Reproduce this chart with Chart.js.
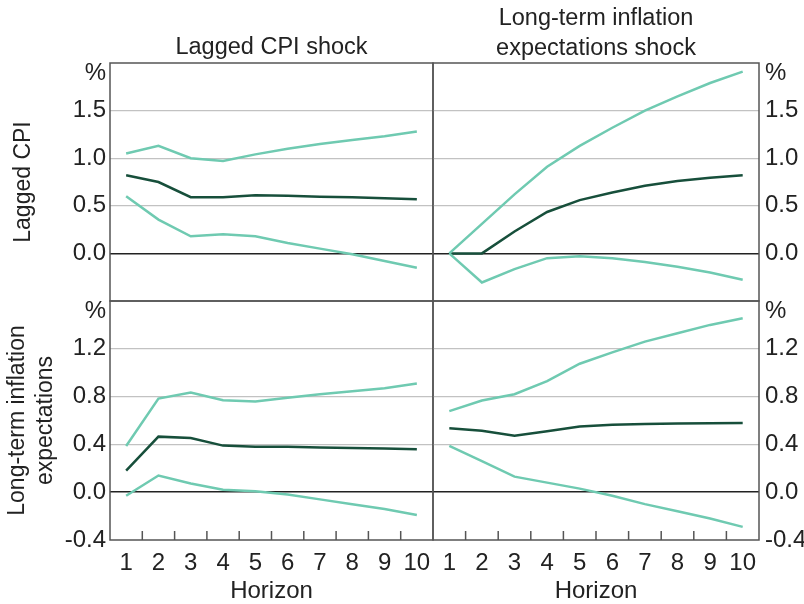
<!DOCTYPE html>
<html>
<head>
<meta charset="utf-8">
<script src="https://cdn.jsdelivr.net/npm/chart.js@4.4.1/dist/chart.umd.min.js"></script>
<style>
  html, body { margin: 0; padding: 0; background: #fff; overflow: hidden; }
  canvas { position: absolute; left: 0; top: 0; }
</style>
</head>
<body>
<canvas id="topLeft" width="804" height="604"></canvas>
<canvas id="topRight" width="804" height="604"></canvas>
<canvas id="bottomLeft" width="804" height="604"></canvas>
<canvas id="bottomRight" width="804" height="604"></canvas>
<script>
const horizons = ['1', '2', '3', '4', '5', '6', '7', '8', '9', '10'];

// response of lagged CPI to a lagged CPI shock
const cpiOnCpiHigh = [1.05, 1.13, 1.00, 0.97, 1.04, 1.10, 1.15, 1.19, 1.23, 1.28];
const cpiOnCpiMid  = [0.82, 0.75, 0.59, 0.59, 0.61, 0.605, 0.595, 0.59, 0.58, 0.57];
const cpiOnCpiLow  = [0.60, 0.355, 0.18, 0.20, 0.18, 0.11, 0.05, -0.01, -0.08, -0.15];

// response of lagged CPI to an expectations shock
const cpiOnExpHigh = [0.0, 0.31, 0.62, 0.91, 1.13, 1.32, 1.50, 1.65, 1.79, 1.91];
const cpiOnExpMid  = [0.0, 0.0, 0.23, 0.435, 0.56, 0.64, 0.71, 0.76, 0.795, 0.82];
const cpiOnExpLow  = [0.0, -0.305, -0.165, -0.05, -0.03, -0.05, -0.09, -0.14, -0.20, -0.277];

// response of expectations to a lagged CPI shock
const expOnCpiHigh = [0.387, 0.784, 0.834, 0.77, 0.76, 0.79, 0.82, 0.845, 0.87, 0.91];
const expOnCpiMid  = [0.18, 0.465, 0.454, 0.39, 0.38, 0.38, 0.375, 0.37, 0.365, 0.36];
const expOnCpiLow  = [-0.03, 0.14, 0.073, 0.02, 0.008, -0.02, -0.06, -0.10, -0.14, -0.19];

// response of expectations to an expectations shock
const expOnExpHigh = [0.678, 0.767, 0.82, 0.93, 1.075, 1.17, 1.26, 1.33, 1.40, 1.455];
const expOnExpMid  = [0.535, 0.515, 0.473, 0.51, 0.55, 0.565, 0.57, 0.575, 0.577, 0.58];
const expOnExpLow  = [0.387, 0.26, 0.13, 0.08, 0.03, -0.03, -0.10, -0.16, -0.22, -0.29];

const cpiTicks = [-0.5, 0, 0.5, 1.0, 1.5, 2.0];
const expTicks = [-0.4, 0, 0.4, 0.8, 1.2, 1.6];

const bandColor = '#6fcab1';
const midColor = '#174f3b';
const textColor = '#222';
const family = '"Liberation Sans", Arial, Helvetica, sans-serif';

// panel outline plus small inward tick marks between horizons
const framePlugin = {
  id: 'frame',
  afterDraw(chart, args, opts) {
    const { ctx, chartArea: a } = chart;
    ctx.save();
    ctx.strokeStyle = '#555';
    ctx.lineWidth = 1.5;
    ctx.strokeRect(a.left, a.top, a.right - a.left, a.bottom - a.top);
    if (opts.ticks) {
      const x = chart.scales.x;
      for (let i = 0; i < horizons.length - 1; i++) {
        const px = x.getPixelForValue(i + 0.5);
        ctx.beginPath();
        ctx.moveTo(px, a.bottom);
        ctx.lineTo(px, a.bottom - 9);
        ctx.stroke();
      }
    }
    ctx.restore();
  }
};

function panel(id, cfg) {
  const yTicks = cfg.ticks;
  const lo = yTicks[0], hi = yTicks[yTicks.length - 1];
  const scales = {
    x: {
      type: 'category',
      labels: horizons,
      offset: true,
      display: cfg.bottom,
      grid: { display: false, drawTicks: false },
      border: { display: false },
      ticks: { padding: 9, color: textColor, font: { family, size: 24 }, maxRotation: 0, autoSkip: false },
      title: { display: true, text: 'Horizon', color: textColor, font: { family, size: 24 }, padding: { top: 0, bottom: -2 } },
      afterFit: s => { s.height = cfg.bottom ? 64 : 0; }
    },
    y: {
      position: cfg.side,
      min: lo,
      max: hi,
      afterBuildTicks: s => { s.ticks = yTicks.map(v => ({ value: v })); },
      ticks: {
        padding: cfg.side === 'left' ? 4 : 6,
        autoSkip: false,
        color: textColor,
        font: { family, size: 24, lineHeight: 0.85 },
        callback: v => {
          if (v === hi) return ['', '%'];
          if (v === lo && cfg.hideMin) return '';
          return v.toFixed(1);
        }
      },
      grid: {
        drawTicks: false,
        color: c => {
          const v = c.tick.value;
          if (v === lo || v === hi) return 'rgba(0,0,0,0)';
          return v === 0 ? '#222' : '#c2c2c2';
        },
        lineWidth: c => (c.tick.value === 0 ? 1.5 : 1.3)
      },
      border: { display: false },
      title: {
        display: !!cfg.yTitle,
        text: cfg.yTitle,
        color: textColor,
        font: { family, size: 23, lineHeight: 1.2 },
        padding: { top: cfg.yTitlePad || 0, bottom: 0 }
      },
      afterFit: s => { s.width = cfg.side === 'left' ? 110 : 45; }
    }
  };
  if (cfg.title) {
    scales.xt = {
      type: 'category',
      labels: horizons,
      position: 'top',
      grid: { display: false, drawTicks: false },
      border: { display: false },
      ticks: { display: false },
      title: { display: true, text: cfg.title, color: textColor, font: { family, size: 23.5, lineHeight: 1.25 }, padding: { top: cfg.titlePad, bottom: 0 } },
      afterFit: s => { s.height = 63; }
    };
  }
  const line = (data, color) => ({
    data, borderColor: color, borderWidth: 2.5, pointRadius: 0, fill: false, tension: 0
  });
  return new Chart(document.getElementById(id).getContext('2d'), {
    type: 'line',
    data: {
      labels: horizons,
      datasets: [line(cfg.high, bandColor), line(cfg.low, bandColor), line(cfg.mid, midColor)]
    },
    options: {
      responsive: false,
      animation: false,
      layout: { padding: cfg.padding },
      scales,
      plugins: { legend: { display: false }, tooltip: { enabled: false }, frame: { ticks: cfg.bottom } }
    },
    plugins: [framePlugin]
  });
}

panel('topLeft', {
  high: cpiOnCpiHigh, mid: cpiOnCpiMid, low: cpiOnCpiLow,
  ticks: cpiTicks, hideMin: true, side: 'left', bottom: false,
  title: 'Lagged CPI shock', titlePad: 33,
  yTitle: 'Lagged CPI', yTitlePad: 10,
  padding: { left: 0, right: 371, top: 0, bottom: 303 }
});
panel('topRight', {
  high: cpiOnExpHigh, mid: cpiOnExpMid, low: cpiOnExpLow,
  ticks: cpiTicks, hideMin: true, side: 'right', bottom: false,
  title: ['Long-term inflation', 'expectations shock'], titlePad: 4,
  padding: { left: 433, right: 0, top: 0, bottom: 303 }
});
panel('bottomLeft', {
  high: expOnCpiHigh, mid: expOnCpiMid, low: expOnCpiLow,
  ticks: expTicks, hideMin: false, side: 'left', bottom: true,
  yTitle: ['Long-term inflation', 'expectations'], yTitlePad: 4,
  padding: { left: 0, right: 371, top: 301, bottom: 0 }
});
panel('bottomRight', {
  high: expOnExpHigh, mid: expOnExpMid, low: expOnExpLow,
  ticks: expTicks, hideMin: false, side: 'right', bottom: true,
  padding: { left: 433, right: 0, top: 301, bottom: 0 }
});
</script>
</body>
</html>
